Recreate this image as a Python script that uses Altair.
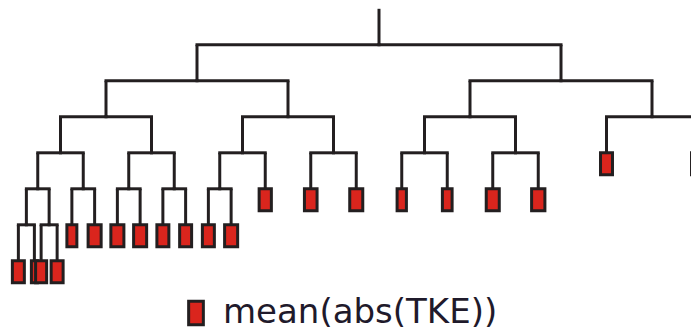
import altair as alt
import pandas as pd

# Leaves of the binary tree, given as branch paths from the root
# (L = left child, R = right child); internal nodes are their prefixes.
leaf_paths = [
    "LLLLLL", "LLLLLR", "LLLLRL", "LLLLRR",
    "LLLRL", "LLLRR",
    "LLRLL", "LLRLR", "LLRRL", "LLRRR",
    "LRLLL", "LRLLR", "LRLR",
    "LRRL", "LRRR",
    "RLLL", "RLLR", "RLRL", "RLRR",
    "RRL", "RRR",
]
# mean(abs(TKE)) of each leaf, relative to the largest one
leaf_tke = [
    0.90, 0.45, 0.83, 0.90,
    0.75, 0.98,
    0.98, 0.98, 0.90, 0.90,
    0.90, 0.98, 0.92,
    0.95, 0.98,
    0.70, 0.73, 0.98, 1.00,
    0.90, 0.90,
]
series_name = "mean(abs(TKE))"

LINE = "#231f20"
RED = "#da251d"

# Layout: each level splits its parent's horizontal spread in half,
# with a floor so the deepest siblings keep apart.
ROOT_SPREAD = 0.25
MIN_SPREAD = 0.011
LEAF_HALF_W = 6.65 / 728.0   # half leaf width (x units) at tke == 1
LEAF_H = 0.61                 # leaf box height in depth units


def node_x(path):
    x = 0.0
    for i, step in enumerate(path):
        off = max(ROOT_SPREAD / 2 ** i, MIN_SPREAD)
        x += -off if step == "L" else off
    return x


nodes = sorted({p[:k] for p in leaf_paths for k in range(len(p) + 1)},
               key=lambda s: (len(s), s))

verticals = pd.DataFrame([
    {"x": node_x(p), "d0": len(p), "d1": len(p) + 1} for p in nodes
])
horizontals = pd.DataFrame([
    {"x0": node_x(p[:-1]), "x1": node_x(p), "d": len(p)} for p in nodes if p
])
leaves = pd.DataFrame({
    "path": leaf_paths,
    "tke": leaf_tke,
    "series": series_name,
})
leaves["cx"] = leaves["path"].map(node_x)
leaves["depth"] = leaves["path"].str.len()

xs = alt.Scale(domain=[-379 / 728, 312 / 728], nice=False, zero=False)
ys = alt.Scale(domain=[-8.8 / 36, (329 - 8.8) / 36], nice=False, zero=False,
               reverse=True)

vert = alt.Chart(verticals).mark_rule(
    color=LINE, strokeWidth=3, strokeCap="butt", clip=True
).encode(
    x=alt.X("x:Q", scale=xs, axis=None),
    y=alt.Y("d0:Q", scale=ys, axis=None),
    y2="d1:Q",
)

horiz = alt.Chart(horizontals).mark_rule(
    color=LINE, strokeWidth=3, strokeCap="square", clip=True
).encode(
    x=alt.X("x0:Q", scale=xs, axis=None),
    x2="x1:Q",
    y=alt.Y("d:Q", scale=ys, axis=None),
)

boxes = alt.Chart(leaves).transform_calculate(
    left=f"datum.cx - datum.tke * {LEAF_HALF_W}",
    right=f"datum.cx + datum.tke * {LEAF_HALF_W}",
    top="datum.depth + 1",
    bottom=f"datum.depth + 1 + {LEAF_H}",
).mark_rect(
    stroke=LINE, strokeWidth=3, opacity=1, clip=True
).encode(
    x=alt.X("left:Q", scale=xs, axis=None),
    x2="right:Q",
    y=alt.Y("top:Q", scale=ys, axis=None),
    y2="bottom:Q",
    color=alt.Color(
        "series:N",
        scale=alt.Scale(domain=[series_name], range=[RED]),
        legend=alt.Legend(
            title=None,
            orient="none",
            legendX=179,
            legendY=296,
            padding=0,
            symbolType="M-0.62,-1L0.62,-1L0.62,1L-0.62,1Z",
            symbolSize=562,
            symbolStrokeColor=LINE,
            symbolStrokeWidth=3,
            symbolOpacity=1,
            labelFont="DejaVu Sans",
            labelFontSize=34,
            labelColor="#1f1a2b",
            labelOffset=10,
            labelLimit=0,
        ),
    ),
)

chart = alt.layer(vert, horiz, boxes).properties(
    width=691,
    height=329,
    padding=0,
    autosize=alt.AutoSizeParams(type="none"),
    background="white",
).configure_view(stroke=None)

chart.save("out.html", embed_options={"renderer": "svg", "actions": False})
